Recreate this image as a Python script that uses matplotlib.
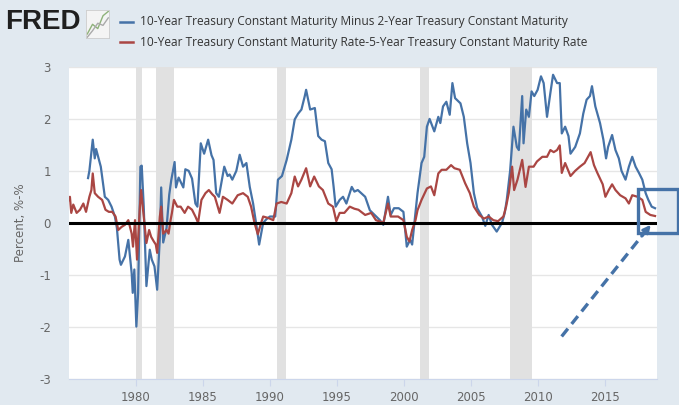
import matplotlib
matplotlib.use("Agg")
import matplotlib.pyplot as plt
from matplotlib.patches import Rectangle

# 10Y - 2Y spread (decimal years)
spread_2y_x = [1976.45, 1976.55, 1976.8, 1976.95, 1977.05, 1977.4, 1977.7, 1977.95, 1978.2, 1978.45,
               1978.6, 1978.8, 1978.9, 1979.2, 1979.45, 1979.7, 1979.78, 1979.9, 1980.05, 1980.18,
               1980.35, 1980.45, 1980.6, 1980.8, 1981.05, 1981.2, 1981.4, 1981.6, 1981.8, 1981.9,
               1982.05, 1982.3, 1982.5, 1982.65, 1982.9, 1983.0, 1983.2, 1983.55, 1983.7, 1983.95,
               1984.2, 1984.45, 1984.6, 1984.85, 1985.1, 1985.4, 1985.65, 1985.8, 1986.0, 1986.2,
               1986.6, 1986.85, 1987.0, 1987.2, 1987.5, 1987.75, 1988.0, 1988.25, 1988.5, 1988.75,
               1989.0, 1989.2, 1989.5, 1989.75, 1990.0, 1990.4, 1990.6, 1990.9, 1991.25, 1991.6,
               1991.85, 1992.1, 1992.35, 1992.6, 1992.7, 1993.0, 1993.35, 1993.6, 1993.85, 1994.1,
               1994.35, 1994.6, 1994.75, 1994.9, 1995.2, 1995.45, 1995.7, 1996.1, 1996.3, 1996.55,
               1997.1, 1997.45, 1997.8, 1998.2, 1998.45, 1998.8, 1999.0, 1999.25, 1999.6, 1999.95,
               2000.2, 2000.45, 2000.6, 2000.8, 2001.0, 2001.3, 2001.5, 2001.7, 2001.9, 2002.25,
               2002.55, 2002.7, 2002.9, 2003.15, 2003.4, 2003.6, 2003.8, 2004.2, 2004.45, 2004.7,
               2004.95, 2005.2, 2005.45, 2005.8, 2006.05, 2006.3, 2006.55, 2006.9, 2007.3, 2007.5,
               2007.65, 2007.9, 2008.15, 2008.4, 2008.55, 2008.8, 2008.9, 2009.1, 2009.3, 2009.5,
               2009.7, 2009.95, 2010.2, 2010.4, 2010.65, 2010.9, 2011.1, 2011.4, 2011.6, 2011.75,
               2012.0, 2012.25, 2012.4, 2012.75, 2013.1, 2013.35, 2013.6, 2013.85, 2014.0, 2014.25,
               2014.6, 2014.85, 2015.05, 2015.2, 2015.5, 2015.75, 2016.0, 2016.2, 2016.5, 2016.75,
               2017.0, 2017.25, 2017.5, 2017.75, 2018.0, 2018.2, 2018.45, 2018.7]
spread_2y = [0.86, 1.0, 1.6, 1.24, 1.42, 1.08, 0.5, 0.44, 0.31, 0.12,
             -0.1, -0.71, -0.81, -0.65, -0.33, -0.97, -1.35, -0.9, -2.0, -1.35,
             1.08, 1.1, 0.31, -1.22, -0.52, -0.71, -0.84, -1.29, -0.29, 0.68,
             -0.38, -0.1, 0.54, 0.82, 1.17, 0.68, 0.87, 0.68, 1.03, 1.0,
             0.85, 0.37, 0.31, 1.53, 1.33, 1.6, 1.3, 1.21, 0.57, 0.5,
             1.08, 0.9, 0.93, 0.83, 1.0, 1.31, 1.08, 1.15, 0.69, 0.37,
             -0.06, -0.42, 0.0, 0.07, 0.12, 0.12, 0.83, 0.9, 1.21, 1.6,
             1.99, 2.1, 2.18, 2.44, 2.56, 2.18, 2.21, 1.67, 1.6, 1.57,
             1.15, 1.03, 0.69, 0.31, 0.44, 0.5, 0.37, 0.69, 0.6, 0.63,
             0.5, 0.24, 0.15, 0.05, -0.04, 0.5, 0.15, 0.28, 0.28, 0.21,
             -0.46, -0.33, -0.42, 0.07, 0.57, 1.15, 1.27, 1.85, 2.0, 1.76,
             2.04, 1.92, 2.24, 2.33, 2.08, 2.69, 2.4, 2.3, 2.04, 1.53,
             1.15, 0.57, 0.28, 0.12, -0.06, 0.15, -0.04, -0.17, 0.0, 0.19,
             0.44, 1.0, 1.85, 1.46, 1.4, 2.44, 1.53, 2.18, 2.04, 2.53,
             2.44, 2.56, 2.82, 2.69, 2.04, 2.5, 2.85, 2.69, 2.69, 1.72,
             1.85, 1.67, 1.33, 1.46, 1.72, 2.1, 2.37, 2.44, 2.63, 2.24,
             1.92, 1.6, 1.24, 1.46, 1.69, 1.4, 1.24, 1.0, 0.83, 1.08,
             1.27, 1.08, 0.96, 0.83, 0.57, 0.44, 0.31, 0.28]

# 10Y - 5Y spread
spread_5y_x = [1975.0, 1975.1, 1975.2, 1975.35, 1975.6, 1975.85, 1976.1, 1976.3, 1976.55, 1976.7,
               1976.8, 1976.95, 1977.2, 1977.5, 1977.75, 1978.0, 1978.25, 1978.5, 1978.7, 1978.95,
               1979.2, 1979.45, 1979.7, 1979.8, 1979.95, 1980.1, 1980.3, 1980.4, 1980.55, 1980.8,
               1981.0, 1981.15, 1981.35, 1981.5, 1981.6, 1981.8, 1981.9, 1982.05, 1982.3, 1982.45,
               1982.6, 1982.7, 1982.85, 1983.1, 1983.35, 1983.65, 1983.9, 1984.2, 1984.45, 1984.65,
               1984.9, 1985.2, 1985.45, 1985.7, 1985.9, 1986.25, 1986.5, 1986.85, 1987.2, 1987.6,
               1988.0, 1988.35, 1988.6, 1988.85, 1989.1, 1989.35, 1989.5, 1989.9, 1990.25, 1990.5,
               1990.85, 1991.25, 1991.6, 1991.85, 1992.1, 1992.35, 1992.7, 1993.0, 1993.3, 1993.65,
               1993.95, 1994.35, 1994.7, 1994.95, 1995.2, 1995.55, 1995.95, 1996.3, 1996.6, 1997.1,
               1997.55, 1997.9, 1998.45, 1998.8, 1999.0, 1999.55, 1999.95, 2000.2, 2000.4, 2000.6,
               2000.85, 2001.0, 2001.3, 2001.7, 2002.0, 2002.25, 2002.55, 2002.8, 2003.15, 2003.5,
               2003.75, 2004.15, 2004.55, 2004.9, 2005.2, 2005.6, 2005.95, 2006.3, 2006.65, 2007.0,
               2007.4, 2007.6, 2007.8, 2008.05, 2008.2, 2008.45, 2008.8, 2009.05, 2009.3, 2009.65,
               2009.9, 2010.3, 2010.65, 2010.9, 2011.15, 2011.4, 2011.6, 2011.75, 2012.0, 2012.4,
               2012.75, 2013.1, 2013.45, 2013.9, 2014.15, 2014.4, 2014.8, 2015.0, 2015.25, 2015.5,
               2015.75, 2016.1, 2016.5, 2016.75, 2017.0, 2017.4, 2017.75, 2018.0, 2018.35, 2018.7]
spread_5y = [0.44, 0.5, 0.19, 0.35, 0.19, 0.25, 0.37, 0.21, 0.5, 0.63,
             0.95, 0.57, 0.5, 0.44, 0.25, 0.21, 0.21, 0.12, -0.14, -0.08,
             -0.04, 0.05, -0.21, -0.46, 0.05, -0.71, 0.25, 0.63, 0.25, -0.39,
             -0.14, -0.27, -0.36, -0.42, -0.58, 0.12, 0.31, -0.21, -0.14, -0.21,
             0.05, 0.19, 0.44, 0.31, 0.31, 0.19, 0.31, 0.25, 0.12, 0.0,
             0.44, 0.57, 0.63, 0.55, 0.5, 0.19, 0.5, 0.44, 0.37, 0.53,
             0.57, 0.5, 0.31, 0.0, -0.22, 0.0, 0.12, 0.09, 0.05, 0.37,
             0.4, 0.37, 0.57, 0.89, 0.7, 0.83, 1.05, 0.7, 0.89, 0.7,
             0.63, 0.37, 0.31, 0.03, 0.19, 0.19, 0.31, 0.27, 0.25, 0.15,
             0.19, 0.05, 0.0, 0.37, 0.12, 0.12, 0.05, -0.27, -0.36, -0.14,
             0.05, 0.24, 0.44, 0.66, 0.7, 0.53, 0.95, 1.02, 1.02, 1.11,
             1.05, 1.02, 0.76, 0.57, 0.31, 0.15, 0.08, 0.12, 0.05, 0.03,
             0.12, 0.31, 0.57, 1.08, 0.63, 0.83, 1.21, 0.69, 1.08, 1.08,
             1.18, 1.27, 1.27, 1.4, 1.36, 1.4, 1.49, 0.96, 1.15, 0.9,
             1.0, 1.08, 1.15, 1.36, 1.11, 0.96, 0.74, 0.5, 0.63, 0.74,
             0.63, 0.53, 0.47, 0.37, 0.53, 0.5, 0.44, 0.21, 0.15, 0.13]

recessions = [(1980.0, 1980.5), (1981.5, 1982.87), (1990.5, 1991.17),
              (2001.17, 2001.83), (2007.92, 2009.5)]
years = [1980, 1985, 1990, 1995, 2000, 2005, 2010, 2015]
yticks = [-3, -2, -1, 0, 1, 2, 3]

label_2y = "10-Year Treasury Constant Maturity Minus 2-Year Treasury Constant Maturity"
label_5y = "10-Year Treasury Constant Maturity Rate-5-Year Treasury Constant Maturity Rate"

bg = "#e1e9f0"
blue = "#4572a7"
red = "#aa4643"
gray_txt = "#666666"

fig = plt.figure(figsize=(6.79, 4.05), dpi=100, facecolor=bg)
ax = fig.add_axes([0.1016, 0.0654, 0.8655, 0.7692])
ax.set_facecolor("white")

for a, b in recessions:
    ax.axvspan(a, b, color="#e1e1e1", lw=0, zorder=1)

for y in yticks:
    ax.axhline(y, color="#e6e6e6", lw=1, zorder=0)

ax.plot(spread_2y_x, spread_2y, color=blue, lw=1.6, zorder=3)
ax.plot(spread_5y_x, spread_5y, color=red, lw=1.6, zorder=4)
ax.axhline(0, color="black", lw=2.2, zorder=5)

ax.set_xlim(1975.03, 2018.82)
ax.set_ylim(-3, 3)
ax.set_xticks(years)
ax.set_xticklabels([str(y) for y in years], color=gray_txt, fontsize=8.5)
ax.set_yticks(yticks)
ax.set_yticklabels([str(y) for y in yticks], color=gray_txt, fontsize=8.5)
ax.tick_params(axis="y", length=0, pad=13)
ax.tick_params(axis="x", length=5, color="#ccd6eb", pad=4)
for s in ["top", "right", "left"]:
    ax.spines[s].set_visible(False)
ax.spines["bottom"].set_color("#ccd6eb")
ax.set_ylabel("Percent, %-%", color=gray_txt, fontsize=8.5, labelpad=9)

# highlight box and arrow
ax.add_patch(Rectangle((2017.41, -0.19), 2.98, 0.84, fill=False, edgecolor=blue,
                       lw=2.4, clip_on=False, zorder=6))
ax.plot([2011.74, 2017.85], [-2.19, -0.21], color=blue, lw=2.4, ls=(0, (3, 1.8)),
        clip_on=False, zorder=6)
ax.annotate("", xy=(2018.38, -0.04), xytext=(2017.7, -0.26),
            arrowprops=dict(arrowstyle="-|>", color=blue, lw=2.0, mutation_scale=11,
                            shrinkA=0, shrinkB=0),
            zorder=6, annotation_clip=False)

# header: FRED logo and legend
fig.text(0.008, 0.945, "FRED", fontsize=20, fontweight="bold", color="#1f1f1f",
         family="Liberation Sans", va="center")
icon = fig.add_axes([0.127, 0.905, 0.034, 0.07])
icon.set_facecolor("#f4f4f4")
icon.plot([0, 1, 2, 3, 4], [0.5, 1.4, 1.0, 2.2, 2.6], color="#8fb27a", lw=1)
icon.plot([0, 1, 2, 3, 4], [0.2, 0.8, 1.5, 1.3, 2.0], color="#aaaaaa", lw=1)
icon.set_xticks([])
icon.set_yticks([])
for s in icon.spines.values():
    s.set_color("#cccccc")
    s.set_linewidth(0.6)

fig.lines.append(plt.Line2D([0.176, 0.196], [0.946, 0.946], color=blue, lw=1.8,
                            transform=fig.transFigure))
fig.lines.append(plt.Line2D([0.176, 0.196], [0.896, 0.896], color=red, lw=1.8,
                            transform=fig.transFigure))
fig.text(0.206, 0.946, label_2y, fontsize=8.6, color="#333333", va="center", family="Open Sans")
fig.text(0.206, 0.896, label_5y, fontsize=8.6, color="#333333", va="center", family="Open Sans")

fig.savefig("out.png", dpi=100, facecolor=bg)
